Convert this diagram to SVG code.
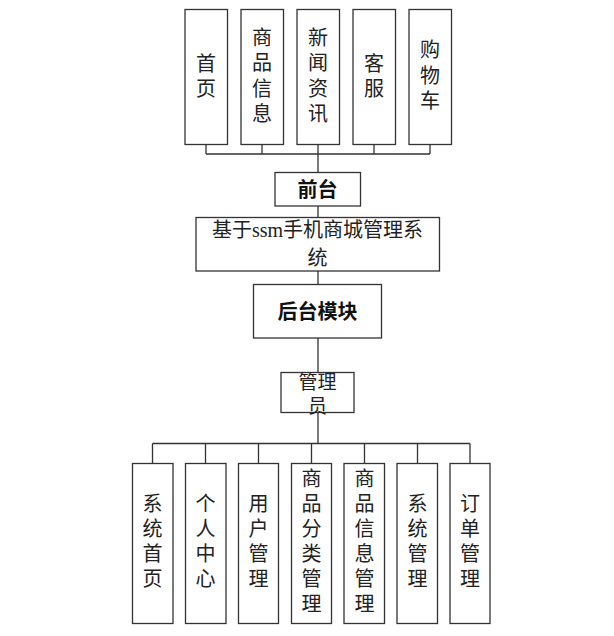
<svg xmlns="http://www.w3.org/2000/svg" width="614" height="636" viewBox="0 0 614 636">
<style>
.box{fill:#fff;stroke:#333;stroke-width:1.3}
.t{font-family:"Liberation Sans","Noto Sans CJK SC",sans-serif;font-size:20px;fill:#222;text-anchor:middle;dominant-baseline:central}
.a{font-size:19px}
.b{font-weight:bold;fill:#111}
.s{font-family:"Liberation Serif","Noto Sans CJK SC",serif;font-size:20px}
.c{fill:none;stroke:#333;stroke-width:1.3}
</style>
<rect width="614" height="636" fill="#fff"/>
<g id="connectors">
<path class="c" d="M206 144V154M262 144V154M318 144V154M374 144V154M430 144V154M206 154H430M318 154V172.5"/>
<path class="c" d="M318 206V217.5M318 271V284.5M318 338V372.5M318 412.5V443.5"/>
<path class="c" d="M152.5 443.5H470M152.5 443.5V463.5M205.5 443.5V463.5M258.5 443.5V463.5M311.5 443.5V463.5M364.5 443.5V463.5M417.5 443.5V463.5M470 443.5V463.5"/>
</g>
<g id="n-shouye"><rect class="box" x="185" y="9.5" width="42.5" height="135"/><text class="t" x="206" y="63.5">首</text><text class="t" x="206" y="88.5">页</text></g>
<g id="n-spxx"><rect class="box" x="241" y="9.5" width="42.5" height="135"/><text class="t" x="262" y="37.5">商</text><text class="t" x="262" y="63">品</text><text class="t" x="262" y="88.5">信</text><text class="t" x="262" y="114">息</text></g>
<g id="n-xwzx"><rect class="box" x="297" y="9.5" width="42.5" height="135"/><text class="t" x="318" y="37.5">新</text><text class="t" x="318" y="63">闻</text><text class="t" x="318" y="88.5">资</text><text class="t" x="318" y="114">讯</text></g>
<g id="n-kefu"><rect class="box" x="353" y="9.5" width="42.5" height="135"/><text class="t" x="374" y="63.5">客</text><text class="t" x="374" y="88.5">服</text></g>
<g id="n-gwc"><rect class="box" x="409" y="9.5" width="42.5" height="135"/><text class="t" x="430" y="50">购</text><text class="t" x="430" y="75.5">物</text><text class="t" x="430" y="101">车</text></g>
<g id="n-qiantai"><rect class="box" x="275" y="172.5" width="85.5" height="33.5"/><text class="t b" x="317.5" y="189.5">前台</text></g>
<g id="n-system"><rect class="box" x="196" y="217.5" width="243.5" height="53.5"/><text class="t s" x="317.5" y="230">基于ssm手机商城管理系</text><text class="t s" x="317.5" y="258">统</text></g>
<g id="n-houtai"><rect class="box" x="253.5" y="284.5" width="128" height="53.5"/><text class="t b" x="317.5" y="312">后台模块</text></g>
<g id="n-admin"><rect class="box" x="281" y="372.5" width="73" height="40"/><text class="t a" x="317.5" y="382">管理</text><text class="t a" x="317.5" y="406">员</text></g>
<g id="n-xtsy"><rect class="box" x="132.5" y="463.5" width="40.5" height="160"/><text class="t" x="152.5" y="504">系</text><text class="t" x="152.5" y="529">统</text><text class="t" x="152.5" y="554">首</text><text class="t" x="152.5" y="579">页</text></g>
<g id="n-grzx"><rect class="box" x="185.5" y="463.5" width="40.5" height="160"/><text class="t" x="205.5" y="504">个</text><text class="t" x="205.5" y="529">人</text><text class="t" x="205.5" y="554">中</text><text class="t" x="205.5" y="579">心</text></g>
<g id="n-yhgl"><rect class="box" x="238.5" y="463.5" width="40" height="160"/><text class="t" x="258.5" y="504">用</text><text class="t" x="258.5" y="529">户</text><text class="t" x="258.5" y="554">管</text><text class="t" x="258.5" y="579">理</text></g>
<g id="n-spflgl"><rect class="box" x="291.5" y="463.5" width="40" height="160"/><text class="t" x="311.5" y="479">商</text><text class="t" x="311.5" y="504">品</text><text class="t" x="311.5" y="529">分</text><text class="t" x="311.5" y="554">类</text><text class="t" x="311.5" y="579">管</text><text class="t" x="311.5" y="604">理</text></g>
<g id="n-spxxgl"><rect class="box" x="344" y="463.5" width="40.5" height="160"/><text class="t" x="364.5" y="479">商</text><text class="t" x="364.5" y="504">品</text><text class="t" x="364.5" y="529">信</text><text class="t" x="364.5" y="554">息</text><text class="t" x="364.5" y="579">管</text><text class="t" x="364.5" y="604">理</text></g>
<g id="n-xtgl"><rect class="box" x="397" y="463.5" width="40.5" height="160"/><text class="t" x="417.5" y="504">系</text><text class="t" x="417.5" y="529">统</text><text class="t" x="417.5" y="554">管</text><text class="t" x="417.5" y="579">理</text></g>
<g id="n-ddgl"><rect class="box" x="450" y="463.5" width="40" height="160"/><text class="t" x="470" y="504">订</text><text class="t" x="470" y="529">单</text><text class="t" x="470" y="554">管</text><text class="t" x="470" y="579">理</text></g>
</svg>
